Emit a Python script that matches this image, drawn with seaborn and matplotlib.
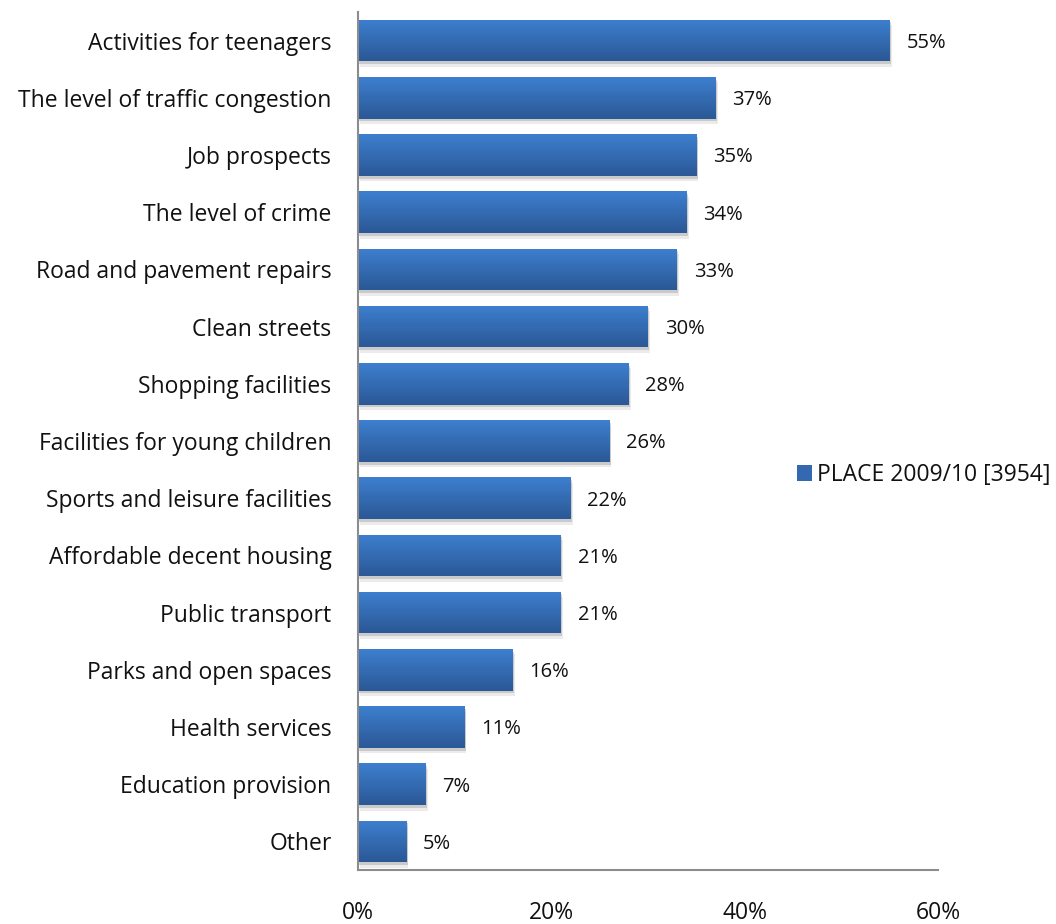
import matplotlib
matplotlib.use("Agg")
import matplotlib.pyplot as plt
import matplotlib.patheffects as pe
from matplotlib.patches import Patch
import numpy as np
import pandas as pd
import seaborn as sns

categories = [
    "Activities for teenagers",
    "The level of traffic congestion",
    "Job prospects",
    "The level of crime",
    "Road and pavement repairs",
    "Clean streets",
    "Shopping facilities",
    "Facilities for young children",
    "Sports and leisure facilities",
    "Affordable decent housing",
    "Public transport",
    "Parks and open spaces",
    "Health services",
    "Education provision",
    "Other",
]
values = [55, 37, 35, 34, 33, 30, 28, 26, 22, 21, 21, 16, 11, 7, 5]
x_ticks = [0, 20, 40, 60]
series_name = "PLACE 2009/10 [3954]"

df = pd.DataFrame({"category": categories, "value": values})

sns.set_theme(style="white")
plt.rcParams["font.family"] = ["Open Sans", "DejaVu Sans"]

fig = plt.figure(figsize=(10.56, 9.24), dpi=100)
ax = fig.add_axes([358 / 1056, 1 - 870 / 924, 580 / 1056, 858 / 924])

sns.barplot(data=df, x="value", y="category", orient="h", color="#3A74BE",
            width=0.73, ax=ax, edgecolor="none", saturation=1)

ax.set_xlim(0, 60)
ax.set_ylim(len(categories) - 0.5, -0.5)

# vertical gradient fill with a soft drop shadow for each bar
top = np.array([0x3D, 0x7F, 0xCF]) / 255
bot = np.array([0x2B, 0x58, 0x96]) / 255
grad = np.linspace(0, 1, 64)[:, None, None]
rgb = top * (1 - grad) + bot * grad
for bar in ax.patches:
    x0, y0 = bar.get_x(), bar.get_y()
    w, h = bar.get_width(), bar.get_height()
    bar.set_path_effects([
        pe.SimplePatchShadow(offset=(1.5, -4), shadow_rgbFace="#C0C0C0", alpha=0.3),
        pe.SimplePatchShadow(offset=(1, -2), shadow_rgbFace="#999999", alpha=0.4),
        pe.Normal()])
    im = ax.imshow(rgb, extent=(x0, x0 + w, y0 + h, y0), aspect="auto",
                   interpolation="bilinear", zorder=bar.get_zorder() + 0.1)
    im.set_clip_path(bar)

ax.set_xticks(x_ticks)
ax.set_xticklabels([f"{t}%" for t in x_ticks], fontsize=16.5, color="#111111")
ax.tick_params(axis="x", length=0, pad=22)
ax.tick_params(axis="y", length=0, pad=19, labelsize=16.5, labelcolor="#111111")
ax.set_xlabel("")
ax.set_ylabel("")

for s in ["top", "right"]:
    ax.spines[s].set_visible(False)
for s in ["left", "bottom"]:
    ax.spines[s].set_color("#8C8C8C")
    ax.spines[s].set_linewidth(1.5)

for i, v in enumerate(values):
    ax.annotate(f"{v}%", xy=(v, i), xytext=(12, 0), textcoords="offset points",
                ha="left", va="center_baseline", fontsize=14.5, color="#111111")

handle = Patch(facecolor="#3468B0", edgecolor="none")
fig.legend([handle], [series_name], loc="center left",
           bbox_to_anchor=(776 / 1056, 1 - 475 / 924), frameon=False,
           fontsize=16.5, handlelength=0.65, handleheight=0.65, handletextpad=0.25,
           labelcolor="#111111")

fig.savefig("out.png", dpi=100)
